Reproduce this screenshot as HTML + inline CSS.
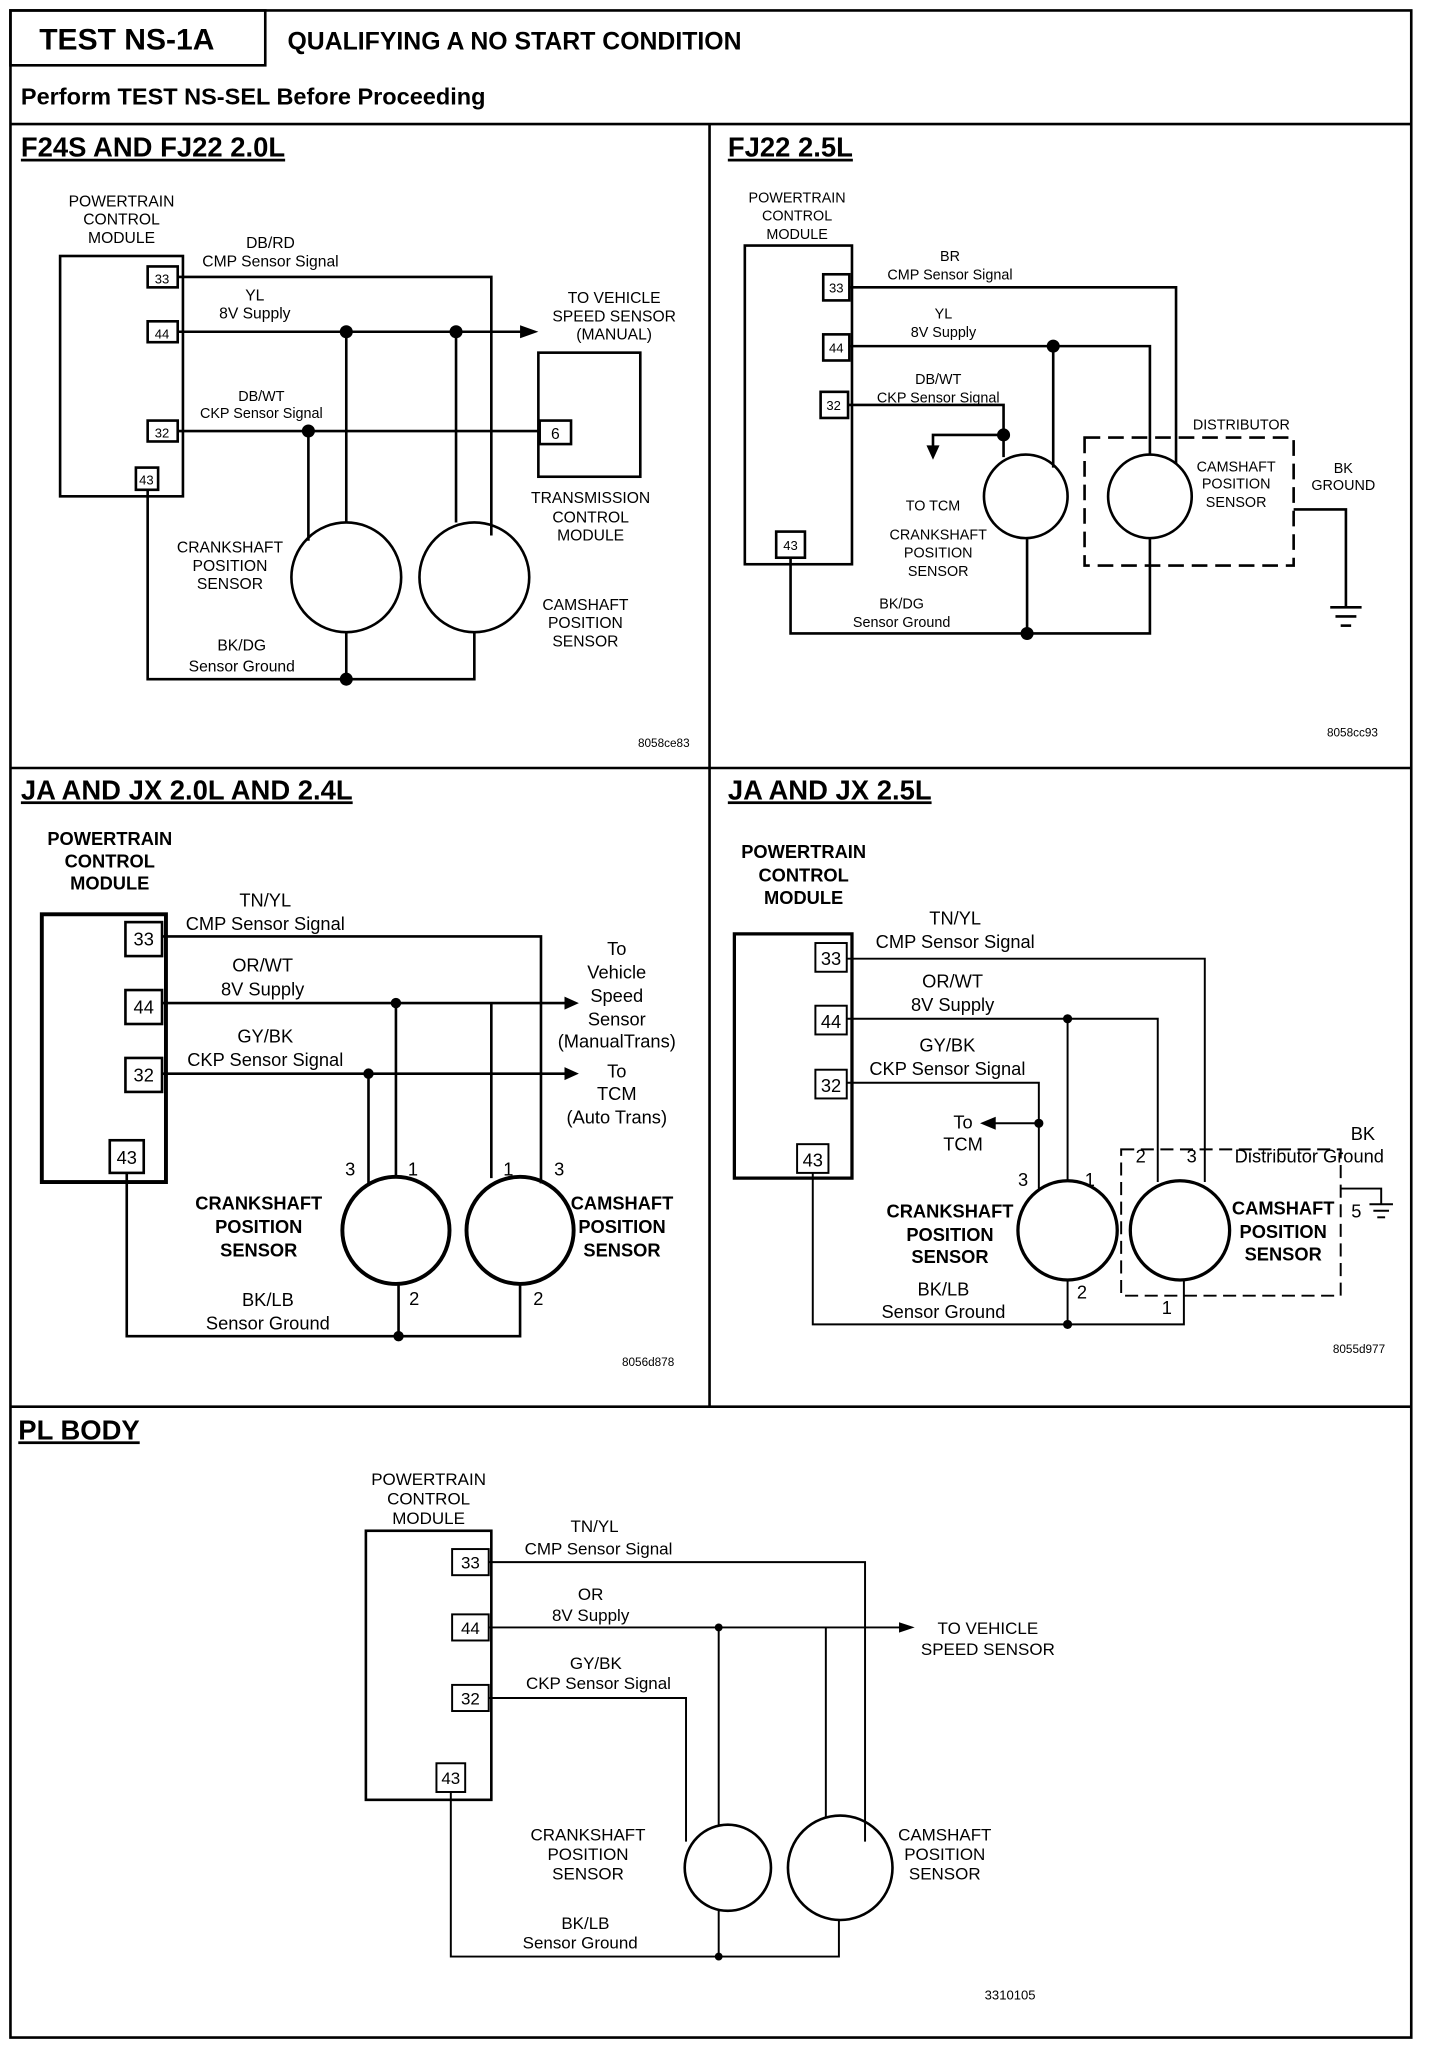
<!DOCTYPE html>
<html><head><meta charset="utf-8"><style>
html,body{margin:0;padding:0;background:#fff}
svg{display:block}
text{font-family:"Liberation Sans",sans-serif;fill:#000}
.t{font-weight:bold;font-size:21px}
.s{font-size:12px;text-anchor:middle}
.m{font-size:14px;text-anchor:middle;font-weight:bold}
.p{font-size:12px;text-anchor:middle}
.c{font-family:"Liberation Mono",monospace;font-size:13px;text-anchor:middle}
</style></head><body>
<svg width="1440" height="2048" viewBox="0 0 1102 1568" preserveAspectRatio="none" xmlns="http://www.w3.org/2000/svg">
<g fill="none" stroke="#000" stroke-width="2">
<rect x="8" y="8" width="1072" height="1552"/>
<rect x="8" y="8" width="195" height="42"/>
<line x1="8" y1="95" x2="1080" y2="95"/>
<line x1="543" y1="95" x2="543" y2="1077"/>
<line x1="8" y1="588" x2="1080" y2="588"/>
<line x1="8" y1="1077" x2="1080" y2="1077"/>
</g>
<text x="30" y="38" style="font-weight:bold;font-size:23px">TEST NS-1A</text>
<text x="220" y="38" style="font-weight:bold;font-size:19px">QUALIFYING A NO START CONDITION</text>
<text x="16" y="80" style="font-weight:bold;font-size:18px">Perform TEST NS-SEL Before Proceeding</text>
<text class="t" x="16" y="120" text-decoration="underline">F24S AND FJ22 2.0L</text>
<text class="t" x="557" y="120" text-decoration="underline">FJ22 2.5L</text>
<text class="t" x="16" y="612" text-decoration="underline">JA AND JX 2.0L AND 2.4L</text>
<text class="t" x="557" y="612" text-decoration="underline">JA AND JX 2.5L</text>
<text class="t" x="14" y="1102" text-decoration="underline">PL BODY</text>

<!-- Panel 1 -->
<g fill="none" stroke="#000" stroke-width="2">
<rect x="46" y="196" width="94" height="184"/>
<rect x="113" y="204" width="23" height="16"/><rect x="113" y="246" width="23" height="16"/>
<rect x="113" y="322" width="23" height="16"/><rect x="104" y="358" width="17" height="17"/>
<polyline points="136,212 376,212 376,410"/>
<line x1="136" y1="254" x2="400" y2="254"/>
<line x1="136" y1="330" x2="413" y2="330"/>
<rect x="413" y="322" width="24" height="18"/>
<rect x="412" y="270" width="78" height="95"/>
<line x1="265" y1="254" x2="265" y2="400"/><line x1="349" y1="254" x2="349" y2="400"/>
<line x1="236" y1="330" x2="236" y2="414"/>
<circle cx="265" cy="442" r="42"/><circle cx="363" cy="442" r="42"/>
<polyline points="113,375 113,520 363,520 363,484"/>
<line x1="265" y1="484" x2="265" y2="520"/>
</g>
<polygon points="398,249 412,254 398,259"/>
<circle cx="265" cy="254" r="5"/><circle cx="349" cy="254" r="5"/><circle cx="236" cy="330" r="5"/><circle cx="265" cy="520" r="5"/>
<g class="s">
<text x="93" y="158">POWERTRAIN</text><text x="93" y="172">CONTROL</text><text x="93" y="186">MODULE</text>
<text x="124" y="217" style="font-size:10px">33</text><text x="124" y="259" style="font-size:10px">44</text><text x="124" y="335" style="font-size:10px">32</text><text x="112" y="371" style="font-size:10px">43</text>
<text x="425" y="336">6</text>
<text x="207" y="190">DB/RD</text><text x="207" y="204">CMP Sensor Signal</text>
<text x="195" y="230">YL</text><text x="195" y="244">8V Supply</text>
<text x="200" y="307" style="font-size:11px">DB/WT</text><text x="200" y="320" style="font-size:11px">CKP Sensor Signal</text>
<text x="470" y="232">TO VEHICLE</text><text x="470" y="246">SPEED SENSOR</text><text x="470" y="260">(MANUAL)</text>
<text x="452" y="385">TRANSMISSION</text><text x="452" y="400">CONTROL</text><text x="452" y="414">MODULE</text>
<text x="176" y="423">CRANKSHAFT</text><text x="176" y="437">POSITION</text><text x="176" y="451">SENSOR</text>
<text x="448" y="467">CAMSHAFT</text><text x="448" y="481">POSITION</text><text x="448" y="495">SENSOR</text>
<text x="185" y="498">BK/DG</text><text x="185" y="514">Sensor Ground</text>
<text x="508" y="572" style="font-size:9px">8058ce83</text>
</g>

<!-- Panel 2 -->
<g fill="none" stroke="#000" stroke-width="2">
<rect x="570" y="188" width="82" height="244"/>
<rect x="630" y="210" width="20" height="20"/><rect x="630" y="256" width="20" height="20"/>
<rect x="628" y="300" width="21" height="20"/><rect x="594" y="407" width="22" height="20"/>
<polyline points="650,220 900,220 900,355"/>
<polyline points="650,265 880,265 880,348"/>
<line x1="806" y1="265" x2="806" y2="358"/>
<polyline points="649,310 768,310 768,350"/>
<polyline points="768,333 714,333 714,342"/>
<circle cx="785" cy="380" r="32"/><circle cx="880" cy="380" r="32"/>
<polyline points="605,427 605,485 880,485 880,412"/>
<line x1="786" y1="412" x2="786" y2="485"/>
<rect x="830" y="335" width="160" height="98" stroke-dasharray="12,6"/>
<polyline points="990,390 1030,390 1030,465"/>
<line x1="1018" y1="465" x2="1042" y2="465"/><line x1="1022" y1="472" x2="1038" y2="472"/><line x1="1026" y1="479" x2="1034" y2="479"/>
</g>
<polygon points="709,341 719,341 714,352"/>
<circle cx="806" cy="265" r="5"/><circle cx="768" cy="333" r="5"/><circle cx="786" cy="485" r="5"/>
<g class="s" style="font-size:11px">
<text x="610" y="155">POWERTRAIN</text><text x="610" y="169">CONTROL</text><text x="610" y="183">MODULE</text>
<text x="640" y="224" style="font-size:10px">33</text><text x="640" y="270" style="font-size:10px">44</text><text x="638" y="314" style="font-size:10px">32</text><text x="605" y="421" style="font-size:10px">43</text>
<text x="727" y="200">BR</text><text x="727" y="214">CMP Sensor Signal</text>
<text x="722" y="244">YL</text><text x="722" y="258">8V Supply</text>
<text x="718" y="294">DB/WT</text><text x="718" y="308">CKP Sensor Signal</text>
<text x="950" y="329">DISTRIBUTOR</text>
<text x="946" y="361">CAMSHAFT</text><text x="946" y="374">POSITION</text><text x="946" y="388">SENSOR</text>
<text x="1028" y="362">BK</text><text x="1028" y="375">GROUND</text>
<text x="714" y="391">TO TCM</text>
<text x="718" y="413">CRANKSHAFT</text><text x="718" y="427">POSITION</text><text x="718" y="441">SENSOR</text>
<text x="690" y="466">BK/DG</text><text x="690" y="480">Sensor Ground</text>
<text x="1035" y="564" style="font-size:9px">8058cc93</text>
</g>

<!-- Panel 3 -->
<g fill="none" stroke="#000" stroke-width="2">
<rect x="32" y="700" width="95" height="205" stroke-width="3"/>
<rect x="96" y="706" width="28" height="26"/><rect x="96" y="758" width="28" height="26"/>
<rect x="96" y="810" width="28" height="26"/><rect x="84" y="873" width="26" height="25"/>
<polyline points="124,717 414,717 414,906"/>
<line x1="124" y1="768" x2="435" y2="768"/>
<line x1="124" y1="822" x2="435" y2="822"/>
<line x1="303" y1="768" x2="303" y2="902"/><line x1="376" y1="768" x2="376" y2="902"/>
<line x1="282" y1="822" x2="282" y2="908"/>
<circle cx="303" cy="942" r="41" stroke-width="3"/><circle cx="398" cy="942" r="41" stroke-width="3"/>
<polyline points="97,898 97,1023 398,1023 398,983"/>
<line x1="305" y1="983" x2="305" y2="1023"/>
</g>
<polygon points="432,763 443,768 432,773"/><polygon points="432,817 443,822 432,827"/>
<circle cx="303" cy="768" r="4"/><circle cx="282" cy="822" r="4"/><circle cx="305" cy="1023" r="4"/>
<g class="p" style="font-size:14px">
<text class="m" x="84" y="647">POWERTRAIN</text><text class="m" x="84" y="664">CONTROL</text><text class="m" x="84" y="681">MODULE</text>
<text x="110" y="724">33</text><text x="110" y="776">44</text><text x="110" y="828">32</text><text x="97" y="891">43</text>
<text x="203" y="694">TN/YL</text><text x="203" y="712">CMP Sensor Signal</text>
<text x="201" y="744">OR/WT</text><text x="201" y="762">8V Supply</text>
<text x="203" y="798">GY/BK</text><text x="203" y="816">CKP Sensor Signal</text>
<text x="472" y="731">To</text><text x="472" y="749">Vehicle</text><text x="472" y="767">Speed</text><text x="472" y="785">Sensor</text><text x="472" y="802">(ManualTrans)</text>
<text x="472" y="825">To</text><text x="472" y="842">TCM</text><text x="472" y="860">(Auto Trans)</text>
<text x="268" y="900">3</text><text x="316" y="900">1</text><text x="389" y="900">1</text><text x="428" y="900">3</text>
<text x="317" y="999">2</text><text x="412" y="999">2</text>
<text class="m" x="198" y="926">CRANKSHAFT</text><text class="m" x="198" y="944">POSITION</text><text class="m" x="198" y="962">SENSOR</text>
<text class="m" x="476" y="926">CAMSHAFT</text><text class="m" x="476" y="944">POSITION</text><text class="m" x="476" y="962">SENSOR</text>
<text x="205" y="1000">BK/LB</text><text x="205" y="1018">Sensor Ground</text>
<text x="496" y="1046" style="font-size:9px">8056d878</text>
</g>

<!-- Panel 4 -->
<g fill="none" stroke="#000" stroke-width="1.5">
<rect x="562" y="715" width="90" height="187" stroke-width="2.5"/>
<rect x="624" y="722" width="24" height="22"/><rect x="624" y="770" width="24" height="22"/>
<rect x="624" y="819" width="24" height="22"/><rect x="610" y="876" width="24" height="22"/>
<polyline points="648,734 922,734 922,905"/>
<polyline points="648,780 886,780 886,905"/>
<line x1="817" y1="780" x2="817" y2="904"/>
<polyline points="648,829 795,829 795,910"/>
<line x1="795" y1="860" x2="760" y2="860"/>
<circle cx="817" cy="942" r="38" stroke-width="2.5"/><circle cx="903" cy="942" r="38" stroke-width="2.5"/>
<polyline points="622,898 622,1014 906,1014 906,980"/>
<line x1="817" y1="980" x2="817" y2="1014"/>
<rect x="858" y="880" width="168" height="112" stroke-dasharray="10,5"/>
<polyline points="1026,910 1057,910 1057,922"/>
<line x1="1048" y1="922" x2="1066" y2="922"/><line x1="1051" y1="927" x2="1063" y2="927"/><line x1="1054" y1="932" x2="1060" y2="932"/>
</g>
<polygon points="762,855 750,860 762,865"/>
<circle cx="817" cy="780" r="3.5"/><circle cx="795" cy="860" r="3.5"/><circle cx="817" cy="1014" r="3.5"/>
<g class="p" style="font-size:14px">
<text class="m" x="615" y="657">POWERTRAIN</text><text class="m" x="615" y="675">CONTROL</text><text class="m" x="615" y="692">MODULE</text>
<text x="636" y="739">33</text><text x="636" y="787">44</text><text x="636" y="836">32</text><text x="622" y="893">43</text>
<text x="731" y="708">TN/YL</text><text x="731" y="726">CMP Sensor Signal</text>
<text x="729" y="756">OR/WT</text><text x="729" y="774">8V Supply</text>
<text x="725" y="805">GY/BK</text><text x="725" y="823">CKP Sensor Signal</text>
<text x="737" y="864">To</text><text x="737" y="881">TCM</text>
<text x="1043" y="873">BK</text><text x="1002" y="890">Distributor Ground</text>
<text x="873" y="890">2</text><text x="912" y="890">3</text><text x="783" y="908">3</text><text x="834" y="908">1</text>
<text x="828" y="994">2</text><text x="893" y="1006">1</text><text x="1038" y="932">5</text>
<text class="m" x="727" y="932">CRANKSHAFT</text><text class="m" x="727" y="950">POSITION</text><text class="m" x="727" y="967">SENSOR</text>
<text class="m" x="982" y="930">CAMSHAFT</text><text class="m" x="982" y="948">POSITION</text><text class="m" x="982" y="965">SENSOR</text>
<text x="722" y="992">BK/LB</text><text x="722" y="1009">Sensor Ground</text>
<text x="1040" y="1036" style="font-size:9px">8055d977</text>
</g>

<!-- Panel 5 -->
<g fill="none" stroke="#000" stroke-width="1.5">
<rect x="280" y="1172" width="96" height="206" stroke-width="2"/>
<rect x="346" y="1186" width="28" height="20"/><rect x="346" y="1236" width="28" height="20"/>
<rect x="346" y="1290" width="28" height="20"/><rect x="334" y="1350" width="22" height="22"/>
<polyline points="374,1196 662,1196 662,1410"/>
<line x1="374" y1="1246" x2="690" y2="1246"/>
<line x1="550" y1="1246" x2="550" y2="1398"/><line x1="632" y1="1246" x2="632" y2="1392"/>
<polyline points="374,1300 525,1300 525,1410"/>
<circle cx="557" cy="1430" r="33" stroke-width="2"/><circle cx="643" cy="1430" r="40" stroke-width="2"/>
<polyline points="345,1372 345,1498 642,1498 642,1470"/>
<line x1="550" y1="1463" x2="550" y2="1498"/>
</g>
<polygon points="688,1242 700,1246 688,1250"/>
<circle cx="550" cy="1246" r="3"/><circle cx="550" cy="1498" r="3"/>
<g class="c">
<text x="328" y="1137">POWERTRAIN</text><text x="328" y="1152">CONTROL</text><text x="328" y="1167">MODULE</text>
<text x="360" y="1201">33</text><text x="360" y="1251">44</text><text x="360" y="1305">32</text><text x="345" y="1366">43</text>
<text x="455" y="1173">TN/YL</text><text x="458" y="1190">CMP Sensor Signal</text>
<text x="452" y="1225">OR</text><text x="452" y="1241">8V Supply</text>
<text x="456" y="1278">GY/BK</text><text x="458" y="1293">CKP Sensor Signal</text>
<text x="756" y="1251">TO VEHICLE</text><text x="756" y="1267">SPEED SENSOR</text>
<text x="450" y="1409">CRANKSHAFT</text><text x="450" y="1424">POSITION</text><text x="450" y="1439">SENSOR</text>
<text x="723" y="1409">CAMSHAFT</text><text x="723" y="1424">POSITION</text><text x="723" y="1439">SENSOR</text>
<text x="448" y="1477">BK/LB</text><text x="444" y="1492">Sensor Ground</text>
<text x="773" y="1531" style="font-size:10px">3310105</text>
</g>
</svg>
</body></html>
